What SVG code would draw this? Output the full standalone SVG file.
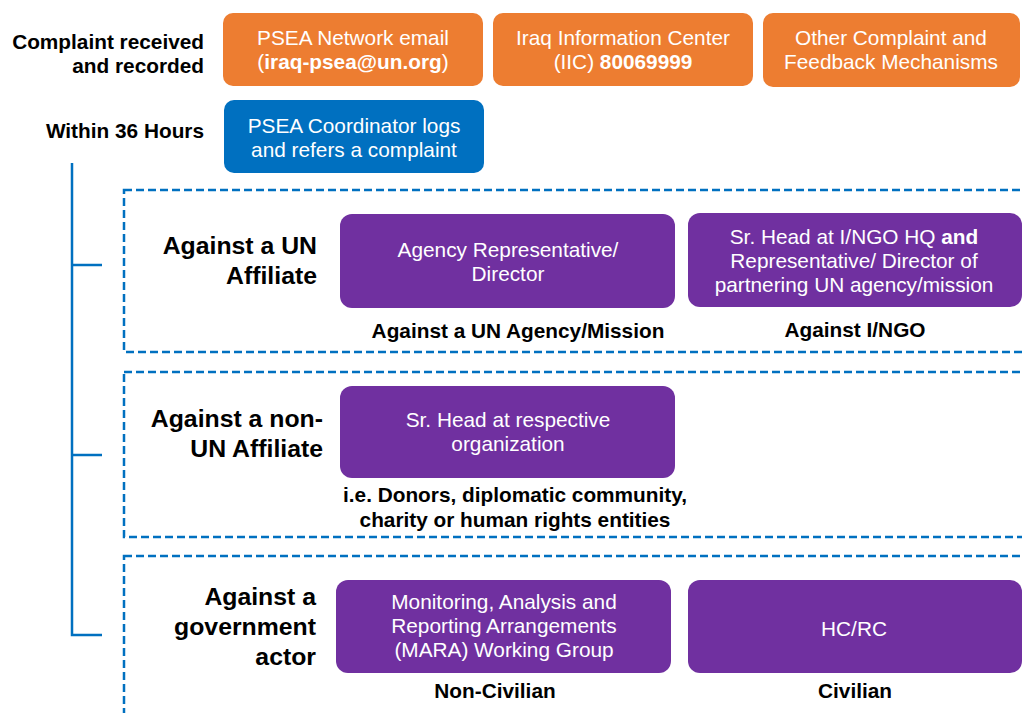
<svg xmlns="http://www.w3.org/2000/svg" width="1022" height="713" viewBox="0 0 1022 713">
<style>
text{font-family:"Liberation Sans",Arial,sans-serif}
.lbl{font-size:20.8px;font-weight:bold;fill:#000;text-anchor:end}
.big{font-size:24.8px;font-weight:bold;fill:#000;text-anchor:end}
.sub{font-size:20.8px;font-weight:bold;fill:#000;text-anchor:middle}
.bt{font-size:20.8px;fill:#fff;text-anchor:middle}
.orange{fill:#ED7D31}
.blue{fill:#0070C0}
.purple{fill:#7030A0}
.dash{fill:none;stroke:#0070C0;stroke-width:2.5;stroke-dasharray:8 4}
.conn{fill:none;stroke:#0070C0;stroke-width:2.5}
</style>
<rect width="1022" height="713" fill="#fff"/>
<g id="labels">
<text class="lbl" x="204" y="49">Complaint received</text>
<text class="lbl" x="204" y="73">and recorded</text>
<text class="lbl" x="204" y="138">Within 36 Hours</text>
</g>
<g id="sections">
<rect class="dash" x="124" y="190" width="920" height="162"/>
<rect class="dash" x="124" y="372" width="920" height="165"/>
<rect class="dash" x="124" y="556" width="920" height="180"/>
</g>
<g id="connectors">
<path class="conn" d="M72 163 V635 H102"/>
<path class="conn" d="M72 265 H102"/>
<path class="conn" d="M72 455 H102"/>
</g>
<g id="email">
<rect class="orange" x="223" y="13" width="260" height="73" rx="10"/>
<text class="bt" x="353" y="45">PSEA Network email</text>
<text class="bt" x="353" y="69">(<tspan font-weight="bold">iraq-psea@un.org</tspan>)</text>
</g>
<g id="iic">
<rect class="orange" x="493" y="13" width="260" height="73" rx="10"/>
<text class="bt" x="623" y="45">Iraq Information Center</text>
<text class="bt" x="623" y="69">(IIC) <tspan font-weight="bold">80069999</tspan></text>
</g>
<g id="other">
<rect class="orange" x="763" y="13" width="257" height="74" rx="10"/>
<text class="bt" x="891" y="45">Other Complaint and</text>
<text class="bt" x="891" y="69">Feedback Mechanisms</text>
</g>
<g id="coordinator">
<rect class="blue" x="224" y="100" width="260" height="73" rx="10"/>
<text class="bt" x="354" y="133">PSEA Coordinator logs</text>
<text class="bt" x="354" y="157">and refers a complaint</text>
</g>
<g id="un-affiliate">
<text class="big" x="317" y="254">Against a UN</text>
<text class="big" x="317" y="284">Affiliate</text>
</g>
<g id="agency-rep">
<rect class="purple" x="340" y="214" width="335" height="94" rx="12"/>
<text class="bt" x="508" y="257">Agency Representative/</text>
<text class="bt" x="508" y="281">Director</text>
<text class="sub" x="518" y="338">Against a UN Agency/Mission</text>
</g>
<g id="ingo-head">
<rect class="purple" x="688" y="213" width="334" height="94" rx="12"/>
<text class="bt" x="854" y="244">Sr. Head at I/NGO HQ <tspan font-weight="bold">and</tspan></text>
<text class="bt" x="854" y="268">Representative/ Director of</text>
<text class="bt" x="854" y="292">partnering UN agency/mission</text>
<text class="sub" x="855" y="337">Against I/NGO</text>
</g>
<g id="non-un-affiliate">
<text class="big" x="323" y="427">Against a non-</text>
<text class="big" x="323" y="457">UN Affiliate</text>
</g>
<g id="sr-head">
<rect class="purple" x="340" y="386" width="335" height="92" rx="12"/>
<text class="bt" x="508" y="427">Sr. Head at respective</text>
<text class="bt" x="508" y="451">organization</text>
<text class="sub" x="515" y="502">i.e. Donors, diplomatic community,</text>
<text class="sub" x="515" y="527">charity or human rights entities</text>
</g>
<g id="government">
<text class="big" x="316" y="605">Against a</text>
<text class="big" x="316" y="635">government</text>
<text class="big" x="316" y="665">actor</text>
</g>
<g id="mara">
<rect class="purple" x="336" y="580" width="335" height="93" rx="12"/>
<text class="bt" x="504" y="609">Monitoring, Analysis and</text>
<text class="bt" x="504" y="633">Reporting Arrangements</text>
<text class="bt" x="504" y="657">(MARA) Working Group</text>
<text class="sub" x="495" y="698">Non-Civilian</text>
</g>
<g id="hcrc">
<rect class="purple" x="688" y="580" width="334" height="93" rx="12"/>
<text class="bt" x="854" y="636">HC/RC</text>
<text class="sub" x="855" y="698">Civilian</text>
</g>
</svg>
